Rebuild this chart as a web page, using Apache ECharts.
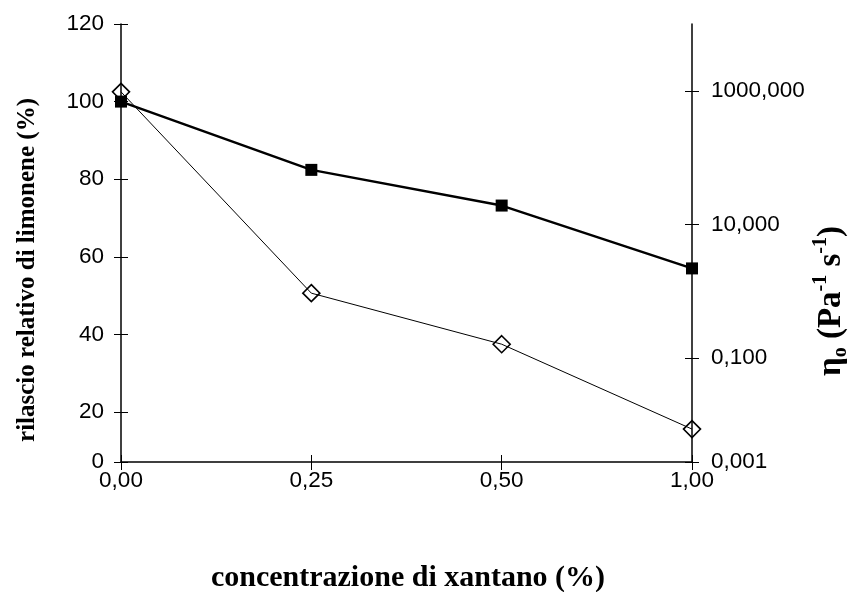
<!DOCTYPE html>
<html>
<head>
<meta charset="utf-8">
<script src="https://cdn.jsdelivr.net/npm/echarts@6/dist/echarts.min.js"></script>
<style>html,body{margin:0;padding:0;background:#fff}#c{width:853px;height:592px}</style>
</head>
<body>
<div id="c"></div>
<script>
var categories = ['0,00', '0,25', '0,50', '1,00'];
var rilascio = [100, 82.4, 73.2, 57];          // left axis (%)
var viscosita = [966, 0.94, 0.162, 0.0087];    // right log axis (Pa^-1 s^-1)
var leftTicks = [7.1, 20, 40, 60, 80, 100, 120];
var rightTicks = [0.0028, 0.1, 10, 1000];

var labelFont = {color: '#000', fontFamily: 'Liberation Sans', fontSize: 22.5};
function fmtRight(v) {
  if (v < 0.005) return '0,001';
  return v.toFixed(3).replace('.', ',');
}
function fmtLeft(v) { return v < 10 ? '0' : String(v); }

var chart = echarts.init(document.getElementById('c'));
chart.setOption({
  animation: false,
  backgroundColor: '#fff',
  grid: {left: 121, right: 161, top: 24, bottom: 130, containLabel: false},
  xAxis: [{
    type: 'category', data: categories, boundaryGap: false,
    axisLine: {lineStyle: {color: '#000', width: 1.5}},
    axisTick: {show: true, inside: false, length: 8, lineStyle: {color: '#000'}},
    axisLabel: Object.assign({margin: 7}, labelFont),
    splitLine: {show: false}
  }, {
    type: 'category', data: categories, boundaryGap: false, position: 'bottom',
    axisLine: {show: false},
    axisTick: {show: true, inside: true, length: 7, lineStyle: {color: '#000'}},
    axisLabel: {show: false}, splitLine: {show: false}
  }],
  yAxis: [{
    type: 'value', position: 'left', min: 7.1, max: 120,
    axisLine: {show: true, lineStyle: {color: '#000', width: 1.5}},
    axisTick: {show: true, inside: false, length: 7, customValues: leftTicks, lineStyle: {color: '#000'}},
    axisLabel: Object.assign({margin: 17, customValues: leftTicks, formatter: fmtLeft}, labelFont),
    splitLine: {show: false}
  }, {
    type: 'log', position: 'right', min: 0.0028, max: 10000, logBase: 10,
    axisLine: {show: true, lineStyle: {color: '#000', width: 1.5}},
    axisTick: {show: true, inside: false, length: 7, customValues: rightTicks, lineStyle: {color: '#000'}},
    axisLabel: Object.assign({margin: 19, customValues: rightTicks, formatter: fmtRight}, labelFont),
    splitLine: {show: false}
  }, {
    type: 'value', position: 'left', min: 7.1, max: 120,
    axisLine: {show: false},
    axisTick: {show: true, inside: true, length: 7, customValues: leftTicks, lineStyle: {color: '#000'}},
    axisLabel: {show: false}, splitLine: {show: false}
  }, {
    type: 'log', position: 'right', min: 0.0028, max: 10000, logBase: 10,
    axisLine: {show: false},
    axisTick: {show: true, inside: true, length: 7, customValues: rightTicks, lineStyle: {color: '#000'}},
    axisLabel: {show: false}, splitLine: {show: false}
  }],
  series: [{
    name: 'viscosita', type: 'line', yAxisIndex: 1, data: viscosita,
    symbol: 'diamond', symbolSize: [17, 17],
    lineStyle: {color: '#000', width: 1},
    itemStyle: {color: 'rgba(0,0,0,0)', borderColor: '#000', borderWidth: 1.6},
    z: 2
  }, {
    name: 'rilascio', type: 'line', yAxisIndex: 0, data: rilascio,
    symbol: 'rect', symbolSize: 12,
    lineStyle: {color: '#000', width: 2.5},
    itemStyle: {color: '#000', borderWidth: 0},
    z: 3
  }],
  graphic: [{
    type: 'text', x: 408, y: 578,
    style: {text: 'concentrazione di xantano (%)', fill: '#000', font: 'bold 30px "Liberation Serif"', align: 'center', verticalAlign: 'middle'}
  }, {
    type: 'text', x: 28, y: 270, rotation: Math.PI / 2,
    style: {text: 'rilascio relativo di limonene (%)', fill: '#000', font: 'bold 25px "Liberation Serif"', align: 'center', verticalAlign: 'middle'}
  }, {
    type: 'text', x: 831, y: 301, rotation: Math.PI / 2,
    style: {
      text: '{n|η}{sub|o}{n| (Pa}{sup|-1}{n| s}{sup|-1}{n|)}',
      fill: '#000', align: 'center', verticalAlign: 'middle',
      rich: {
        n: {fontFamily: 'Liberation Serif', fontWeight: 'bold', fontSize: 33, fill: '#000', lineHeight: 40},
        sub: {fontFamily: 'Liberation Serif', fontWeight: 'bold', fontSize: 20, fill: '#000', lineHeight: 40, verticalAlign: 'bottom'},
        sup: {fontFamily: 'Liberation Serif', fontWeight: 'bold', fontSize: 20, fill: '#000', lineHeight: 40, verticalAlign: 'top'}
      }
    }
  }]
});
</script>
</body>
</html>
